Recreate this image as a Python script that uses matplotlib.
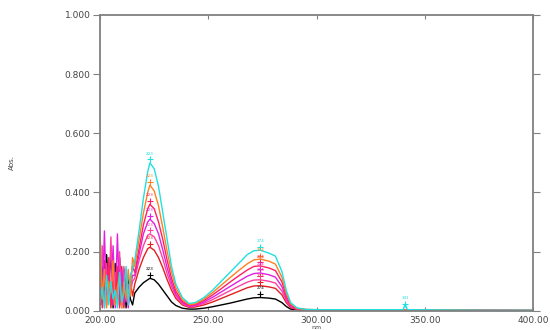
import matplotlib.pyplot as plt

# noisy low-wavelength region (1 nm steps)
wl_noise = [200, 201, 202, 203, 204, 205, 206, 207, 208, 209, 210, 211, 212, 213, 214, 215]
# smooth part of the spectra
wl_smooth = [216, 218, 220, 222, 223, 225, 227, 229, 231, 233, 235, 238, 241, 244, 248,
             252, 256, 260, 264, 268, 271, 274, 278, 281, 284, 286, 288, 291, 295, 300,
             320, 340, 341, 342, 360, 380, 400]

colors = ['black', '#e02020', '#ff40a0', '#e020e0', '#ff2060', '#ff8020', '#20e0e0']

noise = [
    [0.02, 0.15, 0.03, 0.19, 0.08, 0.20, 0.01, 0.16, 0.05, 0.18, 0.02, 0.14, 0.01, 0.12, 0.04, 0.02],
    [0.12, 0.02, 0.17, 0.05, 0.14, 0.01, 0.18, 0.03, 0.13, 0.02, 0.15, 0.01, 0.12, 0.03, 0.10, 0.05],
    [0.05, 0.22, 0.01, 0.16, 0.03, 0.25, 0.02, 0.13, 0.04, 0.20, 0.01, 0.15, 0.03, 0.09, 0.06, 0.10],
    [0.10, 0.03, 0.27, 0.02, 0.12, 0.04, 0.22, 0.01, 0.26, 0.03, 0.14, 0.02, 0.10, 0.01, 0.08, 0.12],
    [0.16, 0.01, 0.12, 0.06, 0.18, 0.02, 0.10, 0.04, 0.15, 0.01, 0.09, 0.05, 0.13, 0.02, 0.11, 0.15],
    [0.27, 0.04, 0.14, 0.01, 0.10, 0.06, 0.17, 0.02, 0.08, 0.12, 0.01, 0.10, 0.04, 0.14, 0.05, 0.18],
    [0.03, 0.08, 0.01, 0.12, 0.02, 0.10, 0.04, 0.07, 0.01, 0.13, 0.03, 0.06, 0.15, 0.02, 0.12, 0.14],
]

smooth = [
    [0.06, 0.08, 0.095, 0.105, 0.11, 0.105, 0.09, 0.07, 0.05, 0.03, 0.018, 0.009, 0.006, 0.006, 0.009,
     0.014, 0.020, 0.026, 0.033, 0.040, 0.044, 0.045, 0.043, 0.040, 0.028, 0.015, 0.006, 0.003, 0.002, 0.002,
     0.002, 0.002, 0.002, 0.002, 0.002, 0.001, 0.001],
    [0.09, 0.14, 0.18, 0.21, 0.215, 0.205, 0.18, 0.145, 0.105, 0.07, 0.042, 0.020, 0.012, 0.013, 0.020,
     0.030, 0.042, 0.054, 0.066, 0.078, 0.084, 0.085, 0.081, 0.076, 0.054, 0.028, 0.011, 0.004, 0.003, 0.002,
     0.002, 0.002, 0.002, 0.002, 0.002, 0.001, 0.001],
    [0.11, 0.17, 0.22, 0.255, 0.26, 0.25, 0.22, 0.175, 0.125, 0.083, 0.05, 0.024, 0.014, 0.016, 0.025,
     0.038, 0.053, 0.068, 0.083, 0.097, 0.104, 0.105, 0.100, 0.094, 0.067, 0.035, 0.014, 0.005, 0.003, 0.003,
     0.002, 0.002, 0.002, 0.002, 0.002, 0.001, 0.001],
    [0.12, 0.19, 0.26, 0.30, 0.31, 0.295, 0.26, 0.205, 0.145, 0.095, 0.057, 0.028, 0.016, 0.018, 0.030,
     0.046, 0.064, 0.082, 0.100, 0.117, 0.126, 0.128, 0.122, 0.114, 0.082, 0.043, 0.017, 0.006, 0.004, 0.003,
     0.003, 0.003, 0.003, 0.003, 0.002, 0.002, 0.001],
    [0.13, 0.21, 0.29, 0.345, 0.36, 0.345, 0.30, 0.24, 0.17, 0.11, 0.066, 0.032, 0.019, 0.021, 0.035,
     0.054, 0.075, 0.097, 0.118, 0.138, 0.150, 0.152, 0.145, 0.136, 0.098, 0.051, 0.020, 0.007, 0.004, 0.003,
     0.003, 0.003, 0.003, 0.003, 0.002, 0.002, 0.001],
    [0.15, 0.24, 0.33, 0.40, 0.425, 0.405, 0.355, 0.28, 0.20, 0.13, 0.078, 0.038, 0.022, 0.024, 0.040,
     0.062, 0.087, 0.112, 0.136, 0.159, 0.172, 0.175, 0.168, 0.158, 0.114, 0.060, 0.024, 0.008, 0.005, 0.004,
     0.003, 0.003, 0.003, 0.003, 0.003, 0.002, 0.002],
    [0.17, 0.27, 0.38, 0.47, 0.50, 0.48, 0.42, 0.33, 0.24, 0.15, 0.09, 0.045, 0.025, 0.028, 0.045,
     0.070, 0.100, 0.130, 0.160, 0.190, 0.203, 0.205, 0.195, 0.185, 0.133, 0.070, 0.028, 0.010, 0.005, 0.004,
     0.004, 0.004, 0.022, 0.004, 0.003, 0.002, 0.002],
]

fig = plt.figure(figsize=(5.5, 3.3), dpi=100)
ax = fig.add_axes([0.182, 0.058, 0.787, 0.897])

for c, nz, sm in zip(colors, noise, smooth):
    ax.plot(wl_noise + wl_smooth, nz + sm, color=c, lw=1.0)
    # peak markers with small labels
    for lo, hi in [(216, 240), (260, 290)]:
        seg = [(a, w) for w, a in zip(wl_smooth, sm) if lo <= w <= hi]
        a, w = max(seg)
        ax.plot(w, a + 0.012, marker='+', color=c, ms=4, mew=0.8)
        ax.text(w, a + 0.028, '%d' % w, color=c, fontsize=3, ha='center')

ax.plot(341, 0.022, marker='+', color=colors[-1], ms=4, mew=0.8)
ax.text(341, 0.04, '341', color=colors[-1], fontsize=3, ha='center')

ax.set_xlim(200, 400)
ax.set_ylim(0, 1.0)
ax.set_xticks([200, 250, 300, 350, 400])
ax.set_yticks([0, 0.2, 0.4, 0.6, 0.8, 1.0])
ax.set_xticklabels(['200.00', '250.00', '300.00', '350.00', '400.00'])
ax.set_yticklabels(['0.000', '0.200', '0.400', '0.600', '0.800', '1.000'])
ax.tick_params(axis='y', left=True, right=True, direction='out', length=5,
               color='gray', labelsize=6.5, labelcolor='#444444', pad=2)
ax.tick_params(axis='x', top=True, bottom=True, direction='in', length=3,
               color='gray', labelsize=6.5, labelcolor='#444444', pad=4)
for sp in ax.spines.values():
    sp.set_color('gray')
    sp.set_linewidth(1.3)

ax.set_ylabel('Abs.', fontsize=5, color='#444444', labelpad=36)
fig.text(0.575, 0.0, 'nm', fontsize=4.5, color='#444444', ha='center', va='bottom')

fig.savefig('out.png')
